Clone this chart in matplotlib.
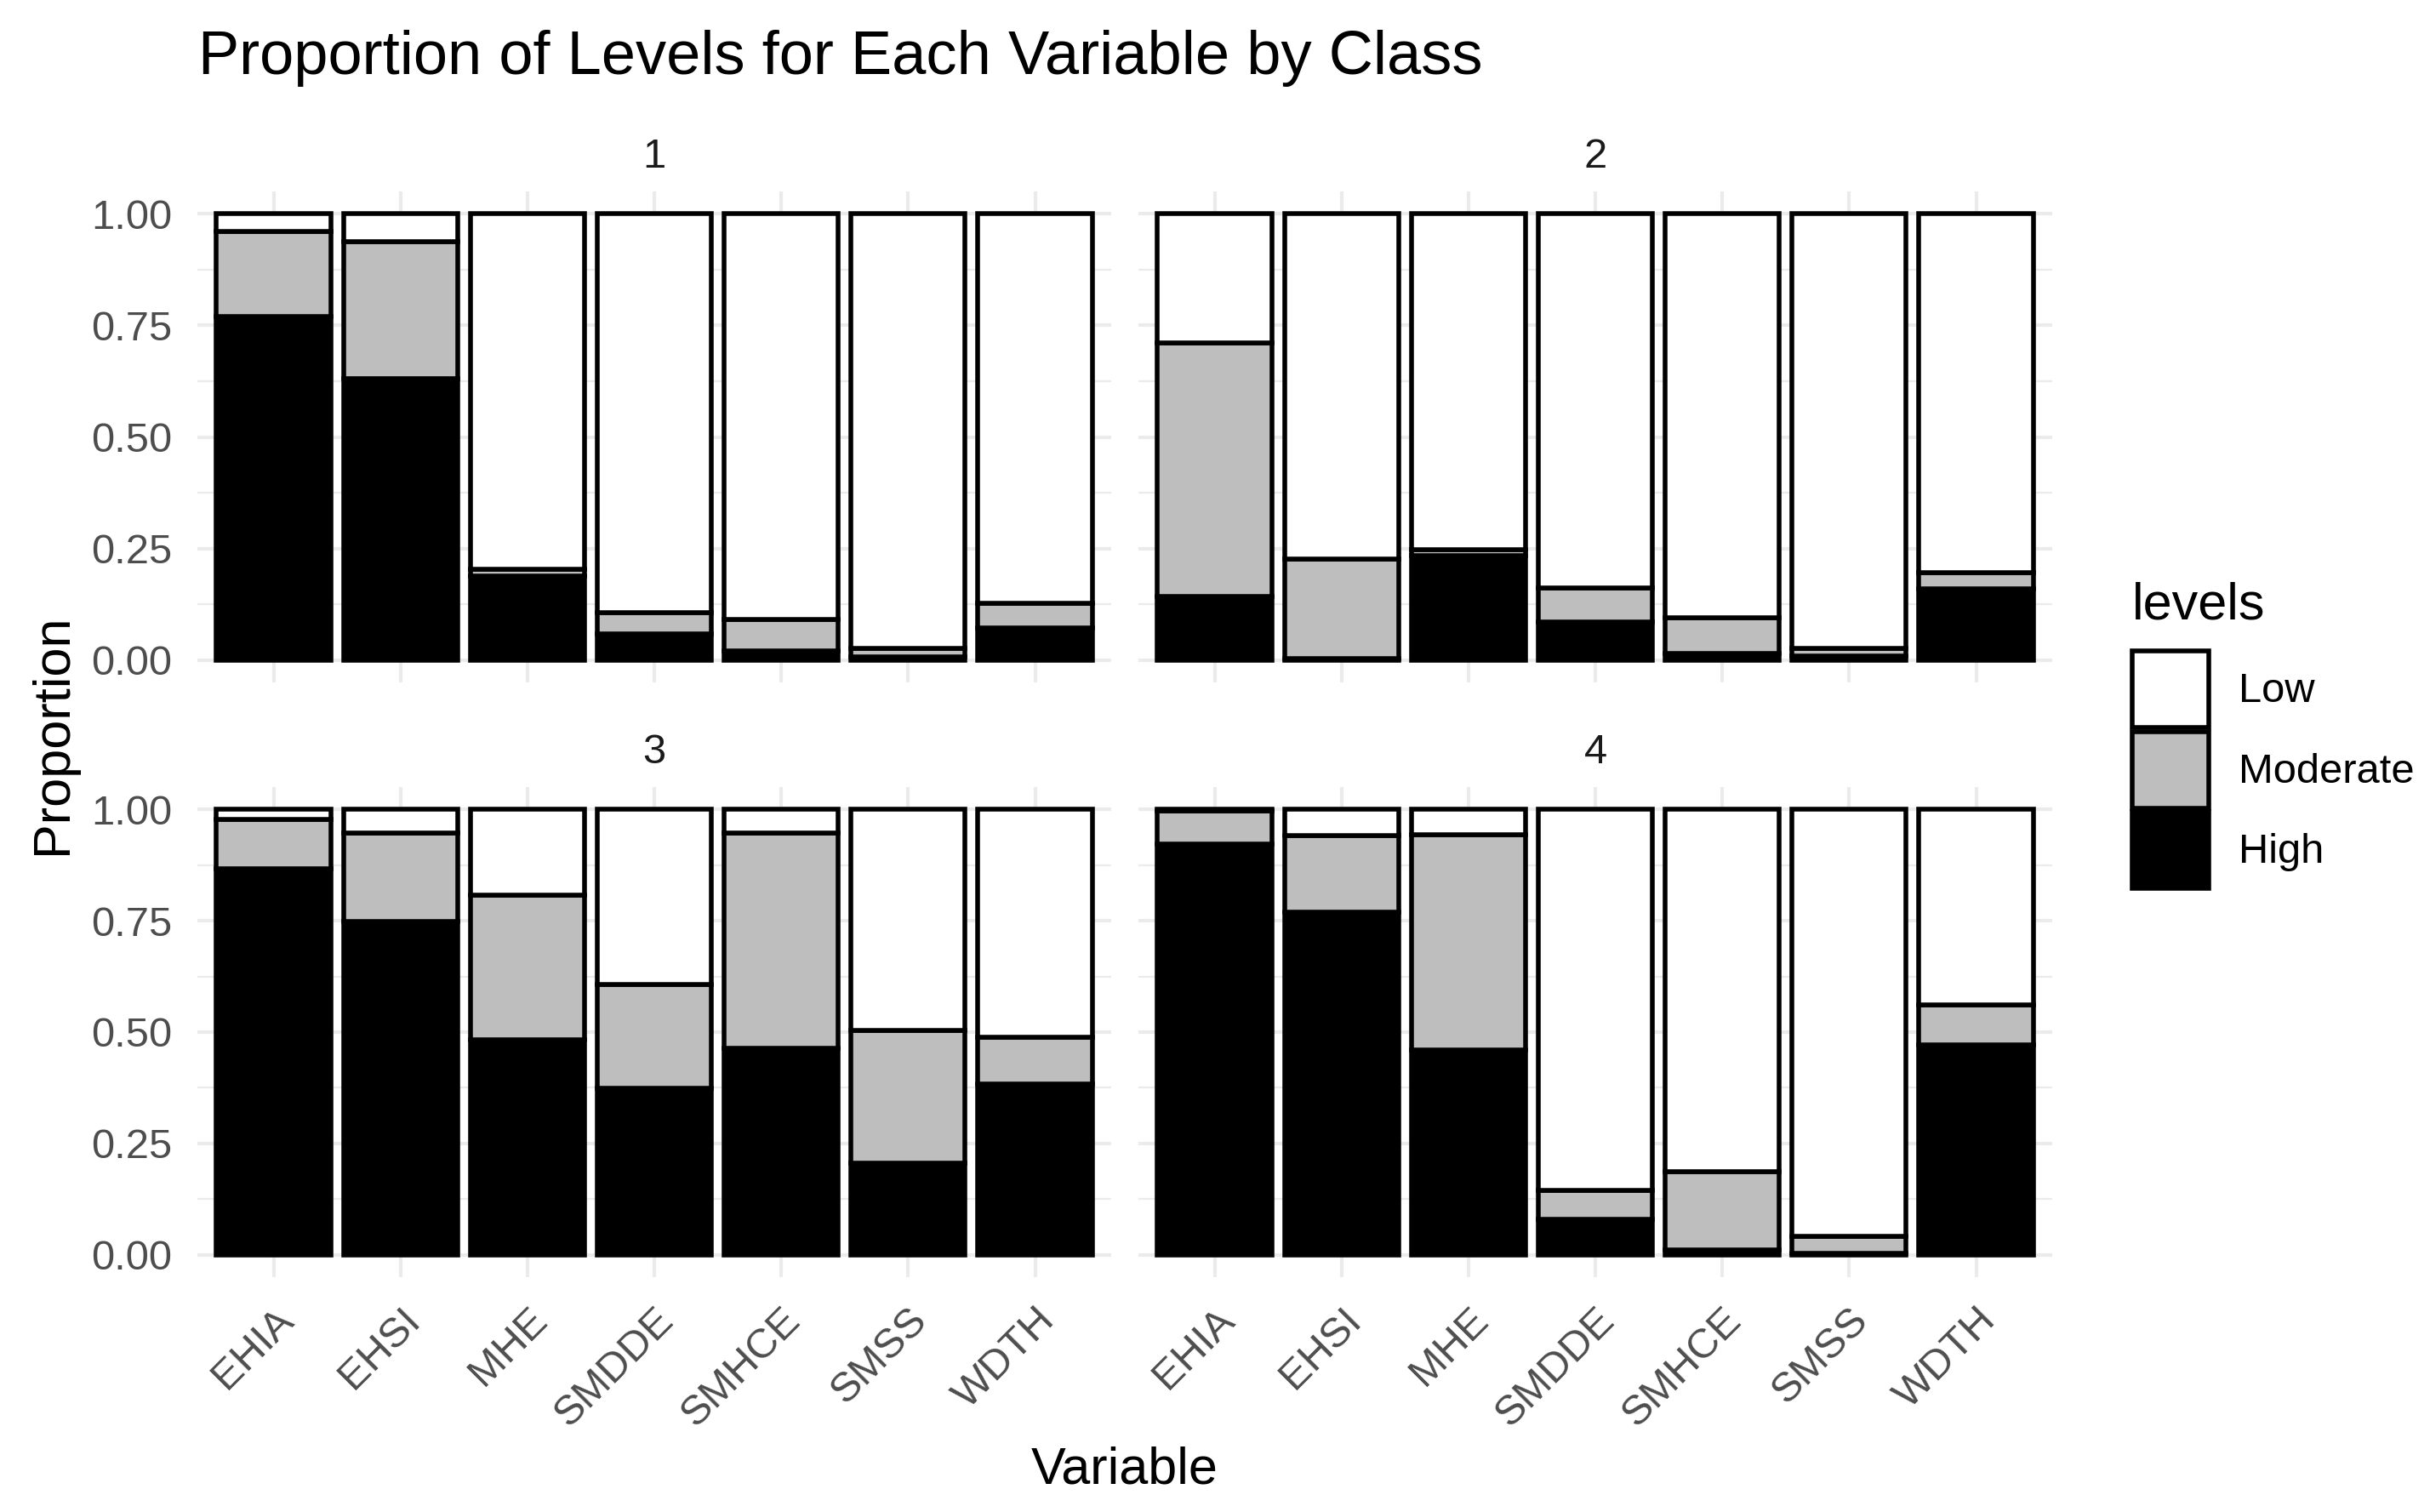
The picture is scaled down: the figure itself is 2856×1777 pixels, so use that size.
import matplotlib
matplotlib.use('Agg')
import matplotlib.pyplot as plt
from matplotlib.patches import Patch
import numpy as np

plt.rcParams['font.family'] = ['Liberation Sans', 'DejaVu Sans']

# ---------------- data ----------------
classes = ['1', '2', '3', '4']
variables = ['EHIA', 'EHSI', 'MHE', 'SMDDE', 'SMHCE', 'SMSS', 'WDTH']
levels = ['Low', 'Moderate', 'High']
level_colors = ['#FFFFFF', '#BEBEBE', '#000000']

high_1 = [0.769, 0.630, 0.189, 0.059, 0.020, 0.008, 0.072]
mod_1 = [0.191, 0.308, 0.014, 0.047, 0.072, 0.019, 0.055]
low_1 = [0.040, 0.062, 0.797, 0.894, 0.908, 0.973, 0.873]

high_2 = [0.142, 0.004, 0.234, 0.086, 0.014, 0.009, 0.159]
mod_2 = [0.569, 0.223, 0.013, 0.075, 0.081, 0.018, 0.037]
low_2 = [0.289, 0.773, 0.753, 0.839, 0.905, 0.973, 0.804]

high_3 = [0.866, 0.748, 0.483, 0.374, 0.463, 0.205, 0.383]
mod_3 = [0.111, 0.198, 0.324, 0.232, 0.483, 0.298, 0.105]
low_3 = [0.023, 0.054, 0.193, 0.394, 0.054, 0.497, 0.512]

high_4 = [0.922, 0.770, 0.460, 0.080, 0.011, 0.003, 0.472]
mod_4 = [0.074, 0.171, 0.484, 0.065, 0.176, 0.039, 0.089]
low_4 = [0.004, 0.059, 0.056, 0.855, 0.813, 0.958, 0.439]

data = {
    '1': {'High': high_1, 'Moderate': mod_1, 'Low': low_1},
    '2': {'High': high_2, 'Moderate': mod_2, 'Low': low_2},
    '3': {'High': high_3, 'Moderate': mod_3, 'Low': low_3},
    '4': {'High': high_4, 'Moderate': mod_4, 'Low': low_4},
}
yticks = [0.0, 0.25, 0.50, 0.75, 1.00]

# ---------------- layout ----------------
W, H = 2856, 1777
DPI = 400
fig = plt.figure(figsize=(W / DPI, H / DPI), dpi=DPI)

def rect(x0, x1, y0, y1):
    return [x0 / W, 1 - y1 / H, (x1 - x0) / W, (y1 - y0) / H]

panels = {
    '1': rect(232, 1306, 225, 802),
    '2': rect(1338, 2412, 225, 802),
    '3': rect(232, 1306, 925, 1501),
    '4': rect(1338, 2412, 925, 1501),
}

edge_lw = 1.0
tick_col = '#4D4D4D'
x = np.arange(len(variables))

stack_order = ['High', 'Moderate', 'Low']
color_of = dict(zip(levels, level_colors))

for cls in classes:
    ax = fig.add_axes(panels[cls])
    bottom = np.zeros(len(variables))
    for lev in stack_order:
        vals = np.array(data[cls][lev])
        ax.bar(x, vals, width=0.9, bottom=bottom, color=color_of[lev],
               edgecolor='black', linewidth=edge_lw, zorder=3)
        bottom = bottom + vals
    ax.set_xlim(-0.6, len(variables) - 0.4)
    ax.set_ylim(-0.05, 1.05)
    ax.set_xticks(x)
    ax.set_yticks(yticks)
    ax.set_yticks([0.125, 0.375, 0.625, 0.875], minor=True)
    ax.grid(which='major', color='#EBEBEB', linewidth=0.75, zorder=0)
    ax.grid(which='minor', axis='y', color='#EBEBEB', linewidth=0.4, zorder=0)
    ax.set_axisbelow(True)
    for s in ax.spines.values():
        s.set_visible(False)
    ax.tick_params(which='both', length=0)
    ax.tick_params(axis='y', pad=5.4, labelsize=8.8, labelcolor=tick_col)
    ax.tick_params(axis='x', pad=5.0, labelsize=8.8, labelcolor=tick_col)
    if cls in ('1', '3'):
        ax.set_yticklabels([f'{v:.2f}' for v in yticks])
    else:
        ax.set_yticklabels([])
    if cls in ('3', '4'):
        ax.set_xticklabels(variables, rotation=45, ha='right',
                           rotation_mode='anchor')
    else:
        ax.set_xticklabels([])
    ax.set_title(cls, fontsize=8.8, color='#1A1A1A', pad=5.0)

# titles
fig.text(233 / W, 1 - 87 / H, 'Proportion of Levels for Each Variable by Class',
         fontsize=13.0, ha='left', va='baseline', color='black')
fig.text(1322 / W, 1 - 1744 / H, 'Variable', fontsize=11, ha='center',
         va='baseline', color='black')
fig.text(62 / W, 1 - 863 / H, 'Proportion', fontsize=11, rotation=90,
         ha='center', va='center', color='black')

# legend
fig.text(2506 / W, 1 - 727 / H, 'levels', fontsize=11, ha='left',
         va='baseline', color='black')
handles = [Patch(facecolor=c, edgecolor='black', linewidth=edge_lw)
           for c in level_colors]
fig.legend(handles, levels, loc='upper left',
           bbox_to_anchor=(2506 / W, 1 - 765 / H), frameon=False,
           borderpad=0, borderaxespad=0, handlelength=1.85, handleheight=2.45,
           labelspacing=0.1, handletextpad=0.7, fontsize=8.8)

fig.savefig('out.png', dpi=DPI, facecolor='white')
